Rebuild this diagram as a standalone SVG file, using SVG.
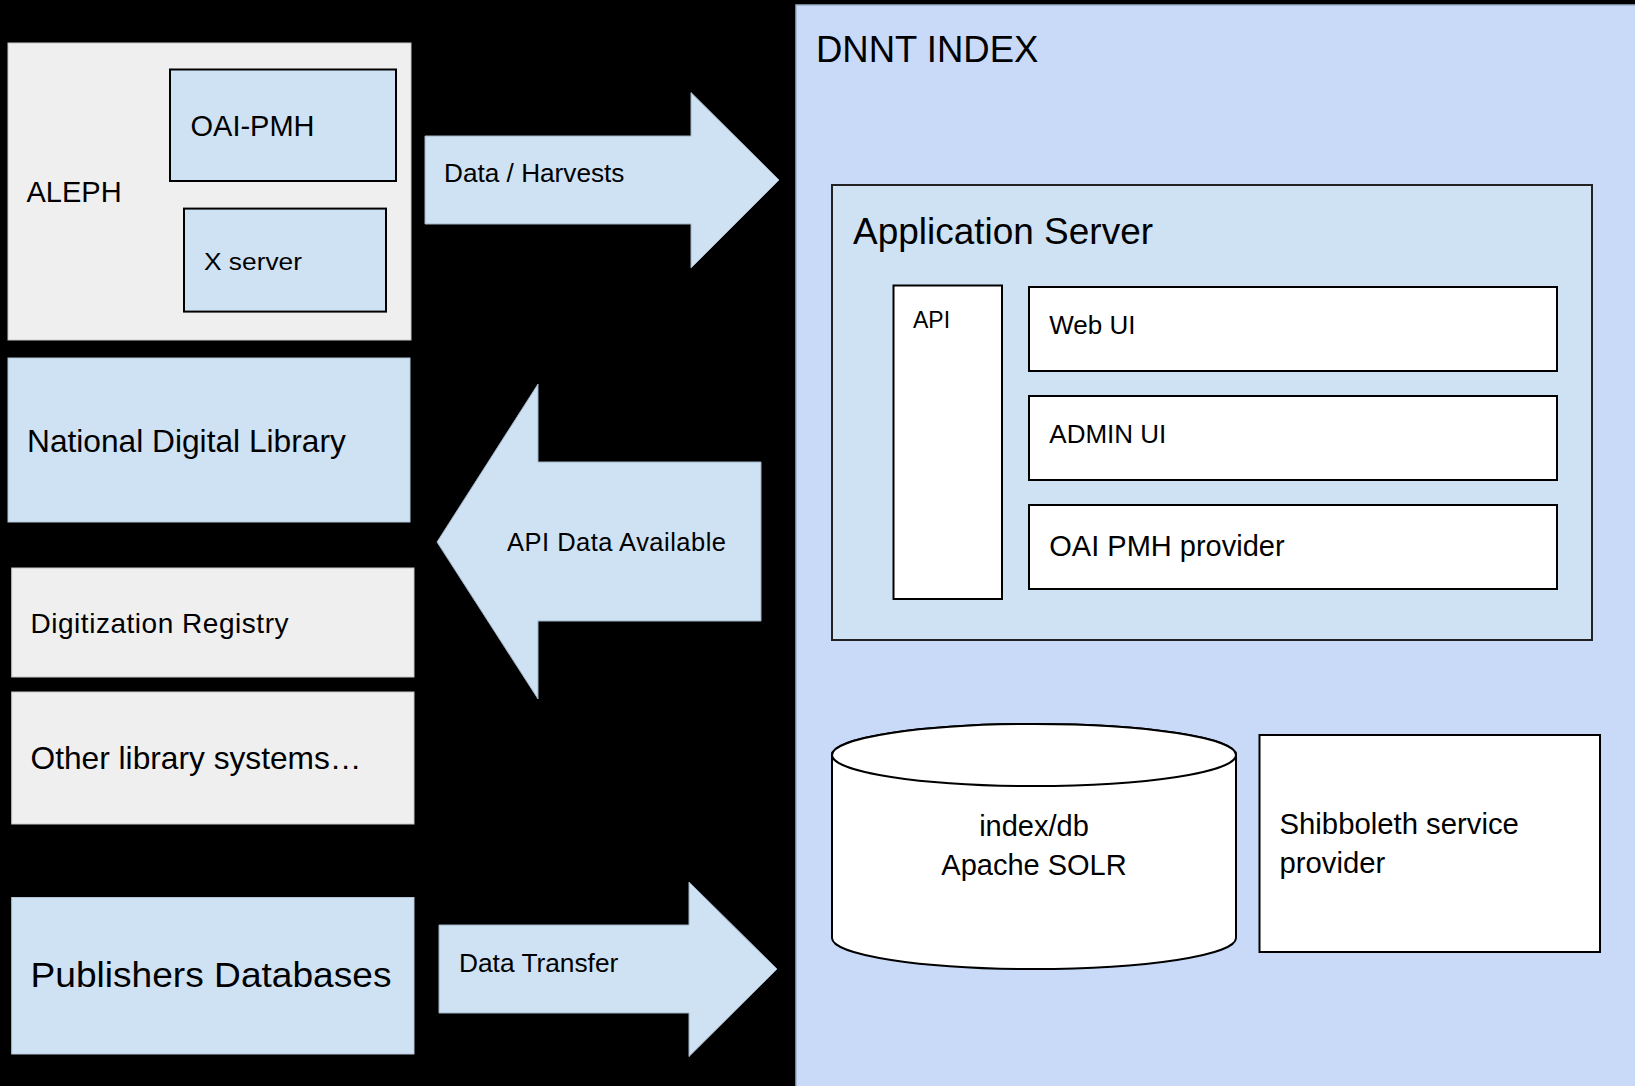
<svg xmlns="http://www.w3.org/2000/svg" width="1635" height="1086" viewBox="0 0 1635 1086">
<style>
  text { font-family: "Liberation Sans", Arial, sans-serif; fill: #000; }
  .gray { fill: #efefef; stroke: #c8c8c8; stroke-width: 1; }
  .lblue { fill: #cfe2f3; stroke: #b4c6d6; stroke-width: 1; }
  .inner { fill: #cfe2f3; stroke: #000; stroke-width: 2; }
  .white { fill: #ffffff; stroke: #000; stroke-width: 2; }
  .arrow { fill: #cfe2f3; stroke: #9fb2c4; stroke-width: 1; }
  .dnnt { fill: #c9daf8; stroke: #9fb0c8; stroke-width: 1.5; }
  .app { fill: #cfe2f3; stroke: #222; stroke-width: 2; }
</style>
<rect x="0" y="0" width="1635" height="1086" fill="#000"/>

<g id="dnnt-index">
  <rect class="dnnt" x="796" y="5" width="850" height="1090"/>
  <text x="816" y="61.5" font-size="36.5">DNNT INDEX</text>
</g>

<g id="application-server">
  <rect class="app" x="832" y="185" width="760" height="455"/>
  <text x="853" y="244" font-size="37" textLength="300" lengthAdjust="spacingAndGlyphs">Application Server</text>
</g>
<g id="api">
  <rect class="white" x="893.5" y="285.5" width="108.5" height="313.5"/>
  <text x="913" y="328.3" font-size="23">API</text>
</g>
<g id="web-ui">
  <rect class="white" x="1029" y="287" width="528" height="84"/>
  <text x="1049.3" y="334" font-size="26">Web UI</text>
</g>
<g id="admin-ui">
  <rect class="white" x="1029" y="396" width="528" height="84"/>
  <text x="1049.3" y="443.3" font-size="26">ADMIN UI</text>
</g>
<g id="oai-pmh-provider">
  <rect class="white" x="1029" y="505" width="528" height="84"/>
  <text x="1049.3" y="556" font-size="29">OAI PMH provider</text>
</g>

<g id="index-db">
  <path class="white" d="M832,755 L832,938 A202,31 0 0 0 1236,938 L1236,755 A202,31 0 0 0 832,755 Z"/>
  <ellipse class="white" cx="1034" cy="755" rx="202" ry="31"/>
  <text x="1034" y="836" font-size="29" text-anchor="middle">index/db</text>
  <text x="1034" y="875" font-size="29" text-anchor="middle">Apache SOLR</text>
</g>

<g id="shibboleth">
  <rect class="white" x="1259.5" y="735" width="340.5" height="217"/>
  <text x="1279.5" y="834" font-size="29.3">Shibboleth service</text>
  <text x="1279.5" y="873" font-size="29.3">provider</text>
</g>

<g id="aleph">
  <rect class="gray" x="8" y="43" width="403" height="297"/>
  <text x="26.5" y="202" font-size="29">ALEPH</text>
</g>
<g id="oai-pmh">
  <rect class="inner" x="170" y="69.5" width="226" height="111.5"/>
  <text x="190.5" y="136" font-size="29">OAI-PMH</text>
</g>
<g id="x-server">
  <rect class="inner" x="184" y="208.6" width="202" height="103"/>
  <text x="204" y="269.5" font-size="24.5" textLength="98" lengthAdjust="spacingAndGlyphs">X server</text>
</g>

<g id="national-digital-library">
  <rect class="lblue" x="8" y="358" width="402" height="164"/>
  <text x="27" y="451.5" font-size="31.7">National Digital Library</text>
</g>
<g id="digitization-registry">
  <rect class="gray" x="11.7" y="568" width="402.3" height="109"/>
  <text x="30.5" y="632.7" font-size="28" textLength="258">Digitization Registry</text>
</g>
<g id="other-library-systems">
  <rect class="gray" x="11.7" y="692" width="402.3" height="132"/>
  <text x="30.5" y="769" font-size="31.7">Other library systems…</text>
</g>
<g id="publishers-databases">
  <rect class="lblue" x="11.7" y="897.5" width="402.3" height="156.5"/>
  <text x="30.5" y="987" font-size="34.5" textLength="361" lengthAdjust="spacingAndGlyphs">Publishers Databases</text>
</g>

<g id="connectors">
  <g id="arrow-data-harvests">
    <polygon class="arrow" points="425,136 691,136 691,92.5 779,180 691,268 691,224 425,224"/>
    <text x="444" y="182" font-size="26.2">Data / Harvests</text>
  </g>
  <g id="arrow-api-data">
    <polygon class="arrow" points="761,462 538,462 538,384 437,542 538,699 538,621 761,621"/>
    <text x="507" y="551" font-size="25.5" textLength="219">API Data Available</text>
  </g>
  <g id="arrow-data-transfer">
    <polygon class="arrow" points="439,925 689,925 689,882 777,969 689,1056.6 689,1013 439,1013"/>
    <text x="459" y="971.5" font-size="26.3">Data Transfer</text>
  </g>
</g>
</svg>
